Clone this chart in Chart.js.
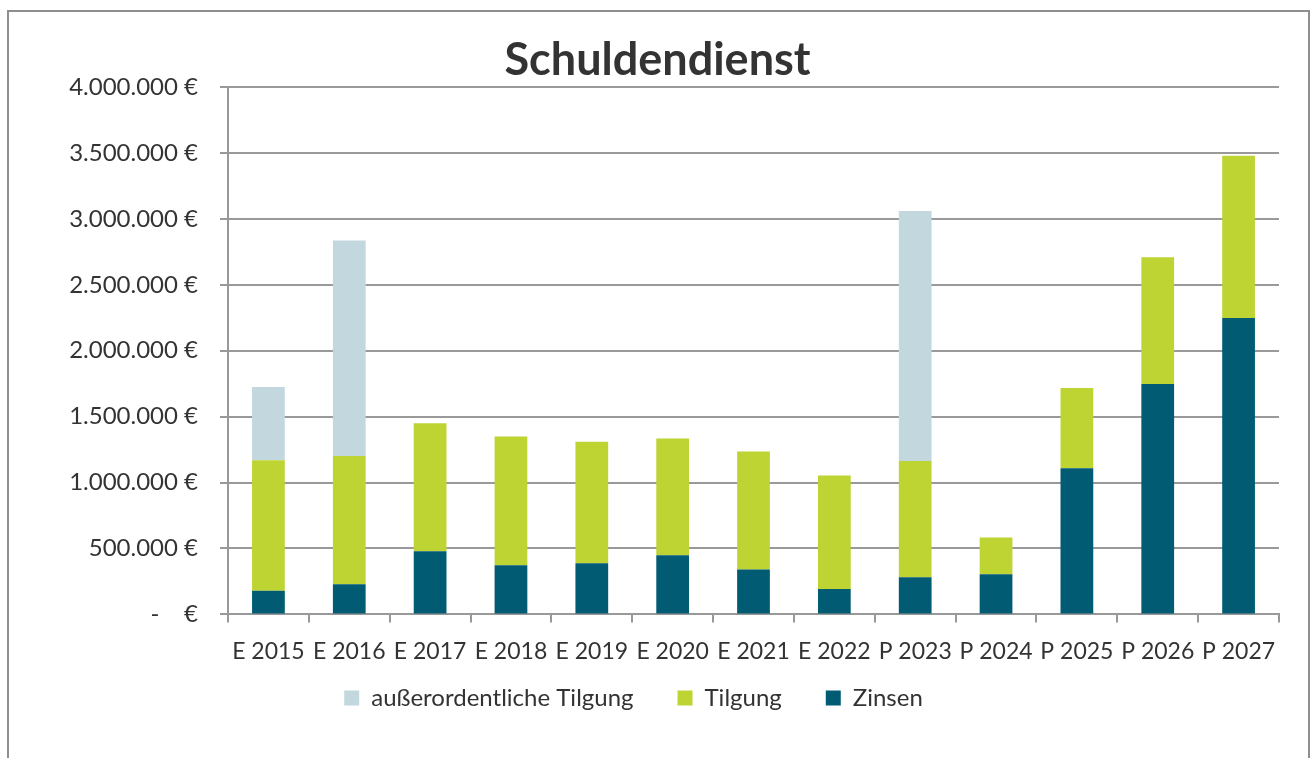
<!DOCTYPE html>
<html>
<head>
<meta charset="utf-8">
<script src="https://cdn.jsdelivr.net/npm/chart.js@4/dist/chart.umd.min.js"></script>
<style>
  html, body { margin: 0; padding: 0; background: #fff; }
  #wrap { position: relative; width: 1314px; height: 758px; overflow: hidden; }
  #frame { position: absolute; left: 7px; top: 10px; width: 1303px; height: 800px; border: 2px solid #8f8f8f; border-bottom: none; box-sizing: border-box; pointer-events: none; }
  canvas { position: absolute; left: 0; top: 0; }
</style>
</head>
<body>
<div id="wrap">
  <canvas id="c" width="1314" height="758"></canvas>
  <div id="frame"></div>
</div>
<script>
const categories = ['E 2015','E 2016','E 2017','E 2018','E 2019','E 2020','E 2021','E 2022','P 2023','P 2024','P 2025','P 2026','P 2027'];
const zinsen = [180000, 228000, 479000, 373000, 388000, 449000, 340000, 193000, 282000, 304000, 1109000, 1748000, 2248000];
const tilgung = [990000, 974000, 970000, 977000, 921000, 886000, 896000, 860000, 882000, 280000, 609000, 961000, 1230000];
const ausserordentlich = [555000, 1634000, 0, 0, 0, 0, 0, 0, 1895000, 0, 0, 0, 0];
const yTickValues = [0, 500000, 1000000, 1500000, 2000000, 2500000, 3000000, 3500000, 4000000];
const yTickLabels = ['-    €', '500.000 €', '1.000.000 €', '1.500.000 €', '2.000.000 €', '2.500.000 €', '3.000.000 €', '3.500.000 €', '4.000.000 €'];

const FONT = 'Lato, "Open Sans", sans-serif';
const GRID = '#999999';

const boxShift = {
  id: 'boxShift',
  afterLayout(chart) {
    const lg = chart.legend;
    if (lg) {
      lg.left -= 10; lg.right -= 10;
      lg.top -= 38; lg.bottom -= 38;
    }
    const tb = chart.titleBlock;
    if (tb) {
      tb.left += 14; tb.right += 14;
    }
  }
};

new Chart(document.getElementById('c'), {
  type: 'bar',
  data: {
    labels: categories,
    datasets: [
      { label: 'Zinsen', data: zinsen, backgroundColor: '#005B73' },
      { label: 'Tilgung', data: tilgung, backgroundColor: '#BED433' },
      { label: 'außerordentliche Tilgung', data: ausserordentlich, backgroundColor: '#C3D7DE' }
    ]
  },
  options: {
    responsive: false,
    animation: false,
    layout: { padding: { left: 8, right: 35, top: 0, bottom: 0 } },
    datasets: { bar: { categoryPercentage: 1, barPercentage: 0.405, borderWidth: 0 } },
    plugins: {
      title: {
        display: true,
        text: 'Schuldendienst',
        color: '#333333',
        font: { family: FONT, size: 45, weight: 'bold' },
        padding: { top: 33, bottom: 0 }
      },
      legend: {
        position: 'bottom',
        reverse: true,
        labels: {
          color: '#333333',
          font: { family: FONT, size: 24 },
          boxWidth: 15,
          boxHeight: 15,
          padding: 44
        }
      },
      tooltip: { enabled: false }
    },
    scales: {
      x: {
        stacked: true,
        offset: true,
        grid: { display: true, drawOnChartArea: false, drawTicks: true, tickLength: 8, color: GRID, lineWidth: 2, offset: true },
        border: { display: true, color: GRID, width: 2 },
        ticks: { color: '#333333', font: { family: FONT, size: 23 }, padding: 15, maxRotation: 0, autoSkip: false }
      },
      y: {
        stacked: true,
        min: 0,
        max: 4000000,
        afterFit(scale) { scale.width = 220; },
        afterBuildTicks(scale) { scale.ticks = yTickValues.map(v => ({ value: v })); },
        grid: { color: GRID, lineWidth: 2, tickLength: 8, drawTicks: true },
        border: { display: true, color: GRID, width: 2 },
        ticks: {
          color: '#333333',
          font: { family: FONT, size: 24 },
          padding: 22,
          callback: (v) => { const i = yTickValues.indexOf(v); return i >= 0 ? yTickLabels[i] : ''; }
        }
      }
    }
  },
  plugins: [boxShift]
});
</script>
</body>
</html>
